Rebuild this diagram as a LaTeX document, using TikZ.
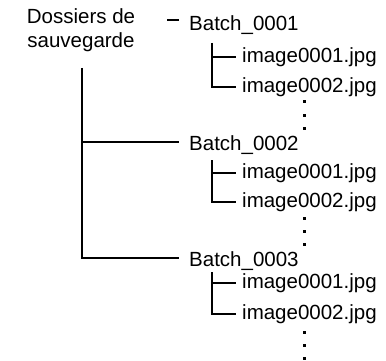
\documentclass[tikz,border=0pt]{standalone}
\usepackage{fontspec}
\setmainfont{Liberation Sans}
\usetikzlibrary{positioning}
\tikzset{
  tree/.style={line width=1.8pt, black},
  batch/.style={anchor=west, inner ysep=0pt, inner xsep=10pt, text height=16pt, text depth=0pt},
  file/.style={anchor=west, inner ysep=0pt, inner xsep=6pt, text height=15pt, text depth=4.5pt},
}

\begin{document}
\begin{tikzpicture}[x=1pt,y=-1pt,font=\fontsize{20.5}{24}\selectfont]
  \useasboundingbox (0,0) rectangle (386,361);
  % root folder
  \node[align=center,inner sep=0pt] (root) at (81,30) {Dossiers de\\sauvegarde};
  \coordinate (rtop) at (82,68);
  % batch folders
  \node[batch] (b1) at (179,23) {Batch\_0001};
  \node[batch] (b2) at (179,142) {Batch\_0002};
  \node[batch] (b3) at (179,258) {Batch\_0003};
  \draw[tree] ([yshift=3pt]b1.west) -- ++(-12,0);
  \draw[tree] (rtop) |- (b3.west);
  \draw[tree] (rtop |- b2.west) -- (b2.west);
  % files
  \node[file] (f11) at (236,57) {image0001.jpg};
  \node[file] (f12) at (236,87) {image0002.jpg};
  \node[file] (f21) at (236,173) {image0001.jpg};
  \node[file] (f22) at (236,202) {image0002.jpg};
  \node[file] (f31) at (236,283) {image0001.jpg};
  \node[file] (f32) at (236,314) {image0002.jpg};
  \coordinate (t1) at (212,43);
  \coordinate (t2) at (212,160);
  \coordinate (t3) at (212,272);
  \foreach \g in {1,2,3}{
    \draw[tree] (t\g) |- (f\g2.west);
    \draw[tree] (t\g |- f\g1.west) -- (f\g1.west);
  }
  % more files
  \foreach \y in {102,116,129,218,231,244,332,345,358}
    \fill (302.5,\y-1.5) rectangle ++(3,3);
\end{tikzpicture}
\end{document}
